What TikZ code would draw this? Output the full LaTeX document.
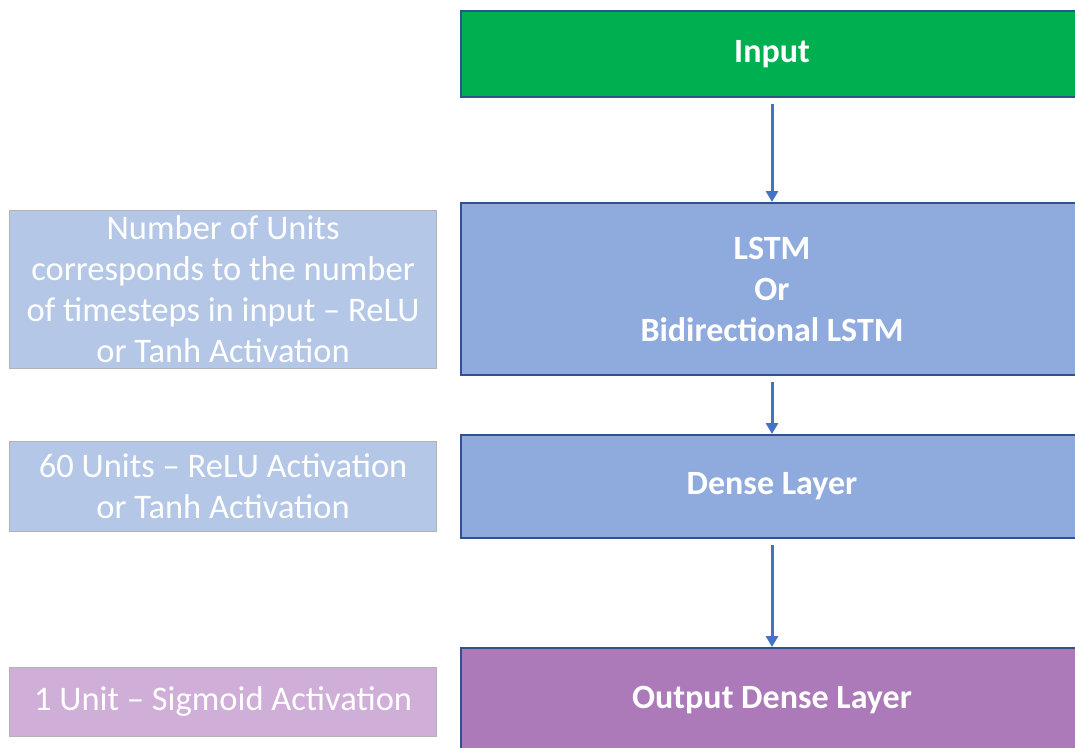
\documentclass[tikz,border=0pt]{standalone}
\usepackage{fontspec}
\setmainfont{Carlito}
\usetikzlibrary{positioning}
\usetikzlibrary{arrows.meta}

\definecolor{verde}{RGB}{0,176,80}
\definecolor{azulcapa}{RGB}{143,170,220}
\definecolor{morado}{RGB}{172,122,185}
\definecolor{borde}{RGB}{47,82,143}
\definecolor{azulnota}{RGB}{180,199,231}
\definecolor{moradonota}{RGB}{207,174,215}
\definecolor{flecha}{RGB}{68,114,196}

\begin{document}
\begin{tikzpicture}[x=1pt,y=-1pt,
		capa/.style={draw=borde, line width=2pt, text=white, align=center, inner sep=0pt,
			minimum width=622pt, font=\fontsize{34}{41}\selectfont\bfseries},
		nota/.style={draw=black!30, line width=0.8pt, fill=azulnota, text=white, align=flush center,
			inner sep=0pt, minimum width=427pt, text width=427pt, font=\fontsize{34.5}{41}\selectfont},
		flechita/.style={-{Triangle[width=12pt,length=11pt]}, line width=3pt, draw=flecha, shorten <=6pt}]
			% Marco de la figura
			\useasboundingbox (0,0) rectangle (1075,747);
			\clip (0,0) rectangle (1075,747);
			
			% Capas de la red
			\node[capa, fill=verde, minimum height=86pt] (input) at (772,54) {Input};
			\node[capa, fill=azulcapa, minimum height=172pt] (lstm) at (772,289) {LSTM\\Or\\Bidirectional LSTM};
			\node[capa, fill=azulcapa, minimum height=103pt] (dense) at (772,486.5) {Dense Layer};
			\node[capa, fill=morado, minimum height=104pt] (output) at (772,700) {Output Dense Layer};
			
			% Notas a la izquierda
			\node[nota, minimum height=158pt, left=23pt of lstm] (notalstm)
				{Number of Units\\corresponds to the number\\of timesteps in input – ReLU\\or Tanh Activation};
			\node[nota, minimum height=90pt, left=23pt of dense] (notadense)
				{60 Units – ReLU Activation\\or Tanh Activation};
			\node[nota, fill=moradonota, minimum height=69pt, left=23pt of output, yshift=-1.5pt] (notaoutput)
				{1 Unit – Sigmoid Activation};
			
			% Flechas entre capas
			\draw[flechita] (input) -- (lstm);
			\draw[flechita] (lstm) -- (dense);
			\draw[flechita] (dense) -- (output);
		\end{tikzpicture}
\end{document}
